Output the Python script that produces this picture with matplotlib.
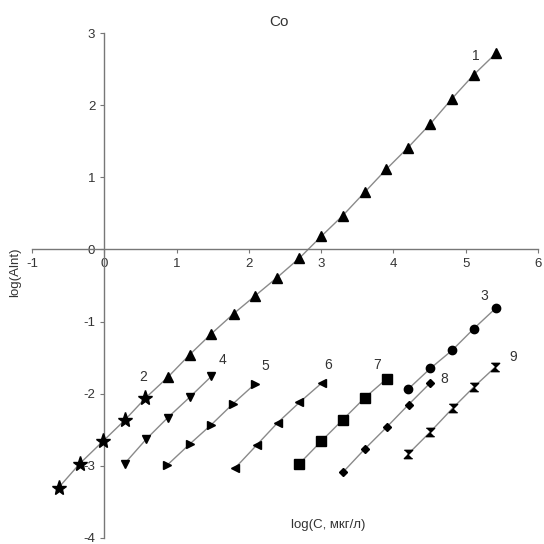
import numpy as np
import matplotlib.pyplot as plt

plt.rcParams['font.family'] = ['Liberation Sans', 'DejaVu Sans']
plt.rcParams['axes.unicode_minus'] = False

# series values (log C, log Aint)
x1 = [0.88, 1.18, 1.48, 1.79, 2.09, 2.39, 2.70, 3.00, 3.30, 3.60, 3.90, 4.20, 4.51, 4.81, 5.11, 5.42]
y1 = [-1.77, -1.46, -1.17, -0.89, -0.64, -0.39, -0.12, 0.18, 0.47, 0.79, 1.11, 1.41, 1.74, 2.09, 2.42, 2.72]
x2 = [-0.63, -0.34, -0.02, 0.28, 0.57]
y2 = [-3.30, -2.97, -2.66, -2.37, -2.06]
x3 = [4.20, 4.51, 4.81, 5.11, 5.42]
y3 = [-1.94, -1.65, -1.40, -1.10, -0.81]
x4 = [0.28, 0.58, 0.88, 1.18, 1.48]
y4 = [-2.97, -2.63, -2.33, -2.05, -1.76]
x5 = [0.87, 1.18, 1.48, 1.78, 2.09]
y5 = [-2.99, -2.70, -2.43, -2.14, -1.86]
x6 = [1.81, 2.11, 2.40, 2.70, 3.01]
y6 = [-3.03, -2.71, -2.40, -2.12, -1.85]
x7 = [2.69, 3.00, 3.30, 3.60, 3.91]
y7 = [-2.98, -2.66, -2.36, -2.06, -1.79]
x8 = [3.30, 3.60, 3.91, 4.21, 4.51]
y8 = [-3.09, -2.77, -2.46, -2.15, -1.85]
x9 = [4.20, 4.51, 4.82, 5.12, 5.41]
y9 = [-2.84, -2.53, -2.20, -1.90, -1.63]

labels = ['1', '2', '3', '4', '5', '6', '7', '8', '9']
label_x = [5.14, 0.54, 5.26, 1.63, 2.23, 3.09, 3.77, 4.70, 5.65]
label_y = [2.68, -1.77, -0.65, -1.53, -1.62, -1.60, -1.60, -1.80, -1.49]

hourglass = [(-1, 1), (1, 1), (-1, -1), (1, -1)]

fig = plt.figure(figsize=(5.44, 5.44), dpi=100)
ax = fig.add_axes([32/544, 6/544, 506/544, 505/544])

lc = '#8a8a8a'
lw = 1.0
# series 1 and 2 share one trend line
ax.plot(x2 + x1, y2 + y1, color=lc, lw=lw, zorder=1)
for xs, ys in [(x3, y3), (x4, y4), (x5, y5), (x6, y6), (x7, y7), (x8, y8), (x9, y9)]:
    ax.plot(xs, ys, color=lc, lw=lw, zorder=1)

mk = dict(ls='', color='black', zorder=3)
ax.plot(x1, y1, marker='^', ms=7.5, **mk)
ax.plot(x2, y2, marker='*', ms=11, **mk)
ax.plot(x3, y3, marker='o', ms=6, **mk)
ax.plot(x4, y4, marker='v', ms=5.5, **mk)
ax.plot(x5, y5, marker='>', ms=5.5, **mk)
ax.plot(x6, y6, marker='<', ms=5.5, **mk)
ax.plot(x7, y7, marker='s', ms=6.5, **mk)
ax.plot(x8, y8, marker='D', ms=3.8, **mk)
ax.plot(x9, y9, marker=hourglass, ms=6, **mk)

for t, tx, ty in zip(labels, label_x, label_y):
    ax.text(tx, ty, t, fontsize=10, color='#333333', ha='center', va='center')

ax.set_xlim(-1, 6)
ax.set_ylim(-4, 3)
ax.spines['left'].set_position(('data', 0))
ax.spines['bottom'].set_position(('data', 0))
ax.spines['right'].set_visible(False)
ax.spines['top'].set_visible(False)
for s in ['left', 'bottom']:
    ax.spines[s].set_color('#777777')
    ax.spines[s].set_linewidth(1.0)
ax.set_xticks(range(-1, 7))
ax.set_yticks(range(-4, 4))
ax.tick_params(colors='#777777', labelcolor='#333333', labelsize=9.5, length=3, direction='out')
ax.patch.set_visible(False)

fig.text(279/544, 1 - 22/544, 'Co', fontsize=11, color='#333333', ha='center', va='center')
fig.text(15/544, 1 - 272/544, 'log(Alnt)', fontsize=9.5, color='#333333', rotation=90, ha='center', va='center')
fig.text(328/544, 1 - 525/544, 'log(C, мкг/л)', fontsize=9.5, color='#333333', ha='center', va='center')

fig.savefig('out.png', dpi=100)
